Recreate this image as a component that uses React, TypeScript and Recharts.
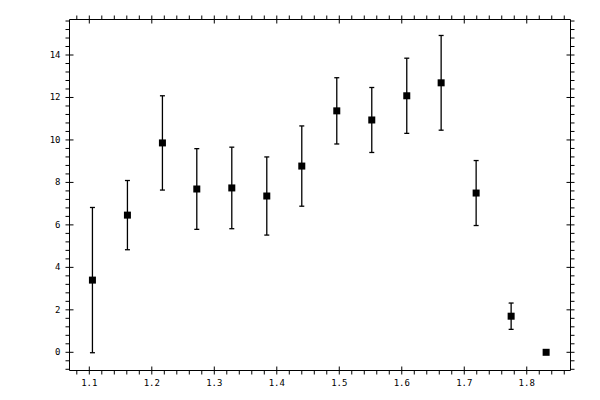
import React from 'react';
import { ScatterChart, Scatter, XAxis, YAxis, ErrorBar } from 'recharts';

// values
const xValues = [1.105, 1.161, 1.217, 1.272, 1.328, 1.384, 1.44, 1.496, 1.552, 1.608, 1.663, 1.719, 1.775, 1.831];
const yValues = [3.4, 6.46, 9.86, 7.69, 7.74, 7.36, 8.77, 11.37, 10.94, 12.08, 12.69, 7.5, 1.7, 0];
const yErrors = [3.42, 1.63, 2.22, 1.9, 1.92, 1.84, 1.89, 1.56, 1.53, 1.77, 2.23, 1.53, 0.62, 0];

const xDomain = [1.0683, 1.87];
const yDomain = [-0.857, 15.672];

// tick positions: labelled majors, plus minor steps between them
const xMinorTicks = Array.from({ length: 40 }, (_, i) => Math.round((1.08 + i * 0.02) * 100) / 100);
const yMinorTicks = Array.from({ length: 42 }, (_, i) => Math.round((-0.8 + i * 0.4) * 10) / 10);

const isXMajor = (v: number) => Math.abs(v * 10 - Math.round(v * 10)) < 1e-6;
const isYMajor = (v: number) => Math.abs(v / 2 - Math.round(v / 2)) < 1e-6;

const data = xValues.map((x, i) => ({ x, y: yValues[i], err: yErrors[i] }));

const FONT = { fontFamily: '"DejaVu Sans Mono", monospace', fontSize: 9, fill: '#000' };

const BottomTick = ({ x, y, payload }: any) => {
  const major = isXMajor(payload.value);
  return (
    <g>
      <line x1={x} x2={x} y1={major ? y - 4 : y} y2={y + 4} stroke="#000" />
      {major && (
        <text x={x} y={y + 15} textAnchor="middle" {...FONT}>
          {payload.value.toFixed(1)}
        </text>
      )}
    </g>
  );
};

const TopTick = ({ x, y, payload }: any) => {
  const major = isXMajor(payload.value);
  return <line x1={x} x2={x} y1={y - 4} y2={major ? y + 4 : y} stroke="#000" />;
};

const LeftTick = ({ x, y, payload }: any) => {
  const major = isYMajor(payload.value);
  return (
    <g>
      <line x1={x - 4} x2={major ? x + 4 : x} y1={y} y2={y} stroke="#000" />
      {major && (
        <text x={x - 9} y={y + 3} textAnchor="end" {...FONT}>
          {Math.round(payload.value)}
        </text>
      )}
    </g>
  );
};

const RightTick = ({ x, y, payload }: any) => {
  const major = isYMajor(payload.value);
  return <line x1={major ? x - 4 : x} x2={x + 4} y1={y} y2={y} stroke="#000" />;
};

const SquareMarker = ({ cx, cy }: any) => (
  <rect x={cx - 3.5} y={cy - 3.5} width={7} height={7} fill="#000" />
);

export default function App() {
  return (
    <div style={{ position: 'fixed', left: 0, top: 0, width: 600, height: 400, background: '#fff' }}>
      <ScatterChart width={600} height={400} margin={{ top: 0, right: 0, bottom: 0, left: 0 }}>
        <XAxis
          xAxisId="bottom"
          type="number"
          dataKey="x"
          orientation="bottom"
          domain={xDomain}
          allowDataOverflow
          ticks={xMinorTicks}
          interval={0}
          height={29.5}
          tickSize={0}
          tickMargin={0}
          tickLine={false}
          axisLine={{ stroke: '#000' }}
          tick={<BottomTick />}
        />
        <XAxis
          xAxisId="top"
          type="number"
          dataKey="x"
          orientation="top"
          domain={xDomain}
          allowDataOverflow
          ticks={xMinorTicks}
          interval={0}
          height={19.5}
          tickSize={0}
          tickMargin={0}
          tickLine={false}
          axisLine={{ stroke: '#000' }}
          tick={<TopTick />}
        />
        <YAxis
          yAxisId="left"
          type="number"
          dataKey="y"
          orientation="left"
          domain={yDomain}
          allowDataOverflow
          ticks={yMinorTicks}
          interval={0}
          width={69.5}
          tickSize={0}
          tickMargin={0}
          tickLine={false}
          axisLine={{ stroke: '#000' }}
          tick={<LeftTick />}
        />
        <YAxis
          yAxisId="right"
          type="number"
          dataKey="y"
          orientation="right"
          domain={yDomain}
          allowDataOverflow
          ticks={yMinorTicks}
          interval={0}
          width={29.5}
          tickSize={0}
          tickMargin={0}
          tickLine={false}
          axisLine={{ stroke: '#000' }}
          tick={<RightTick />}
        />
        <Scatter
          data={data}
          xAxisId="bottom"
          yAxisId="left"
          shape={<SquareMarker />}
          isAnimationActive={false}
        >
          <ErrorBar dataKey="err" direction="y" width={2.5} stroke="#000" strokeWidth={1.3} />
        </Scatter>
        <Scatter
          data={data}
          xAxisId="top"
          yAxisId="right"
          shape={() => null}
          isAnimationActive={false}
        />
      </ScatterChart>
    </div>
  );
}
